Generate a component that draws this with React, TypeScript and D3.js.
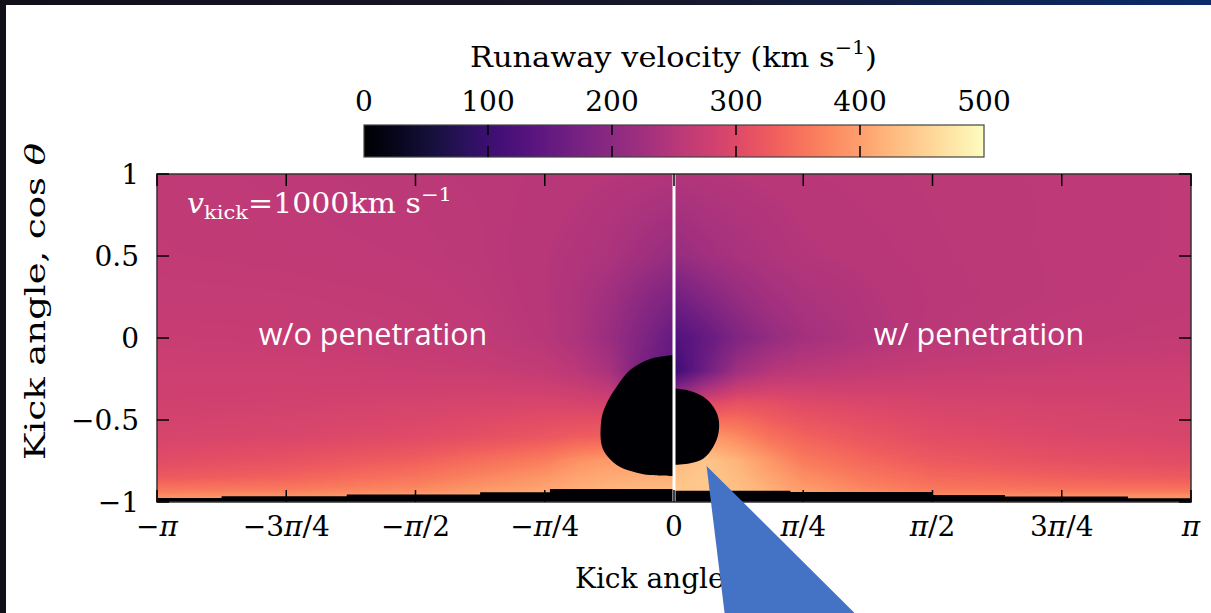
import React, { useMemo } from 'react';
import * as d3 from 'd3';

const W = 1211;
const H = 613;

// Plot frame
const PL = 157, PR = 1191, PT = 174, PB = 502;

// Axis ticks (x in multiples of π)
const xTickFractions = [-1, -0.75, -0.5, -0.25, 0, 0.25, 0.5, 0.75, 1];
const xTickLabels = ['−π', '−3π/4', '−π/2', '−π/4', '0', 'π/4', 'π/2', '3π/4', 'π'];
const yTicks = [1, 0.5, 0, -0.5, -1];
const yTickLabels = ['1', '0.5', '0', '−0.5', '−1'];
const cbTicks = [0, 100, 200, 300, 400, 500];

// Sampled runaway velocity (km/s) on a (cos θ, φ) grid, one table per half
const gridCos = [1, 0.5, 0.25, 0, -0.2, -0.4, -0.6, -0.75, -0.85, -0.92, -0.97];
const phiLeft = [-1, -0.75, -0.5, -0.375, -0.25, -0.1875, -0.125, -0.0625, 0];
const phiRight = [0, 0.0625, 0.125, 0.1875, 0.25, 0.375, 0.5, 0.75, 1];

const velLeft = [
  [262, 258, 256, 255, 253, 252, 250, 248, 245],
  [264, 262, 259, 256, 250, 245, 238, 225, 212],
  [267, 266, 263, 258, 250, 240, 225, 200, 180],
  [272, 270, 266, 262, 252, 240, 215, 185, 150],
  [277, 277, 274, 272, 265, 255, 235, 175, 140],
  [282, 284, 288, 290, 292, 290, 285, 255, 230],
  [290, 294, 302, 310, 320, 328, 332, 330, 330],
  [305, 315, 332, 348, 365, 385, 395, 400, 400],
  [325, 335, 355, 372, 390, 405, 412, 415, 415],
  [355, 360, 375, 390, 405, 415, 422, 425, 428],
  [385, 390, 400, 410, 420, 428, 432, 435, 435],
];

const velRight = [
  [245, 248, 250, 252, 253, 255, 256, 258, 260],
  [212, 225, 235, 242, 248, 252, 255, 258, 260],
  [165, 190, 212, 228, 238, 248, 254, 258, 262],
  [125, 150, 185, 210, 228, 245, 255, 262, 266],
  [100, 165, 225, 250, 258, 265, 270, 274, 276],
  [250, 300, 315, 310, 302, 295, 290, 286, 284],
  [380, 395, 375, 350, 335, 318, 305, 296, 292],
  [425, 440, 420, 390, 362, 340, 325, 312, 305],
  [435, 442, 428, 405, 382, 358, 342, 332, 325],
  [440, 442, 432, 415, 395, 372, 358, 352, 352],
  [442, 442, 435, 422, 408, 392, 382, 385, 385],
];

// Zero-velocity regions (φ in multiples of π, cos θ)
const blobLeftPhi = [0, -0.046, -0.085, -0.111, -0.13, -0.14, -0.14, -0.128, -0.105, -0.072, -0.046, 0];
const blobLeftCos = [-0.104, -0.128, -0.195, -0.297, -0.396, -0.488, -0.652, -0.724, -0.785, -0.821, -0.835, -0.841];
const blobRightPhi = [0, 0.031, 0.057, 0.076, 0.086, 0.086, 0.076, 0.057, 0.031, 0];
const blobRightCos = [-0.307, -0.323, -0.358, -0.419, -0.49, -0.581, -0.663, -0.734, -0.764, -0.774];

// Stepped floor of zero velocity near cos θ = −1
const floorPhi = [-1, -0.875, -0.633, -0.375, -0.24, 0, 0.225, 0.5, 0.64, 0.878, 1];
const floorCos = [-0.975, -0.965, -0.955, -0.94, -0.921, -0.931, -0.939, -0.957, -0.966, -0.977, -0.977];

// Callout
const calloutTip = { phi: 0.063, cos: -0.78 };

const x = d3.scaleLinear().domain([-Math.PI, Math.PI]).range([PL, PR]);
const y = d3.scaleLinear().domain([-1, 1]).range([PB, PT]);
const color = d3.scaleSequential(d3.interpolateMagma).domain([0, 500]);
const cbX = d3.scaleLinear().domain([0, 500]).range([364, 984]);
const CB_T = 125, CB_B = 157;

function bracket(arr: number[], v: number, desc: boolean) {
  const n = arr.length;
  for (let k = 0; k < n - 1; k++) {
    const a = arr[k], b = arr[k + 1];
    if (desc ? v <= a && v >= b : v >= a && v <= b) {
      return { k, t: (v - a) / (b - a) };
    }
  }
  if (desc) return v > arr[0] ? { k: 0, t: 0 } : { k: n - 2, t: 1 };
  return v < arr[0] ? { k: 0, t: 0 } : { k: n - 2, t: 1 };
}

function sample(phiFrac: number, c: number) {
  const cols = phiFrac < 0 ? phiLeft : phiRight;
  const table = phiFrac < 0 ? velLeft : velRight;
  const cx = bracket(cols, phiFrac, false);
  const cy = bracket(gridCos, c, true);
  const v00 = table[cy.k][cx.k], v01 = table[cy.k][cx.k + 1];
  const v10 = table[cy.k + 1][cx.k], v11 = table[cy.k + 1][cx.k + 1];
  const top = v00 + (v01 - v00) * cx.t;
  const bot = v10 + (v11 - v10) * cx.t;
  return top + (bot - top) * cy.t;
}

function PiText({ label, ...rest }: any) {
  const parts = label.split('π');
  return (
    <text {...rest}>
      {parts.map((p: string, i: number) => (
        <React.Fragment key={i}>
          <tspan>{p}</tspan>
          {i < parts.length - 1 && <tspan fontStyle="italic">π</tspan>}
        </React.Fragment>
      ))}
    </text>
  );
}

export default function App() {
  const fieldHref = useMemo(() => {
    const w = PR - PL, h = PB - PT;
    const canvas = document.createElement('canvas');
    canvas.width = w;
    canvas.height = h;
    const ctx = canvas.getContext('2d');
    if (!ctx) return '';
    const img = ctx.createImageData(w, h);
    const lut = d3.range(501).map((v) => d3.rgb(color(v)));
    for (let j = 0; j < h; j++) {
      const c = y.invert(PT + j + 0.5);
      for (let i = 0; i < w; i++) {
        const phiFrac = x.invert(PL + i + 0.5) / Math.PI;
        const v = Math.max(0, Math.min(500, Math.round(sample(phiFrac, c))));
        const col = lut[v];
        const o = (j * w + i) * 4;
        img.data[o] = col.r;
        img.data[o + 1] = col.g;
        img.data[o + 2] = col.b;
        img.data[o + 3] = 255;
      }
    }
    ctx.putImageData(img, 0, 0);
    return canvas.toDataURL();
  }, []);

  const blobPath = (phis: number[], coss: number[]) => {
    const pts = phis.map((p, i) => [x(p * Math.PI), y(coss[i])] as [number, number]);
    const line = d3.line().curve(d3.curveCatmullRom.alpha(0.5));
    return (line(pts) || '') + 'Z';
  };

  const floorPath = d3
    .area<[number, number]>()
    .x((d) => x(d[0] * Math.PI))
    .y0(y(-1))
    .y1((d) => y(d[1]))
    .curve(d3.curveStepAfter)(floorPhi.map((p, i) => [p, floorCos[i]] as [number, number])) || '';

  const gradStops = d3.range(0, 1.0001, 0.02);
  const serif = '"DejaVu Serif", "Liberation Serif", serif';
  const fs = 28;
  const sans = '"Open Sans", sans-serif';

  const tip = [x(calloutTip.phi * Math.PI), y(calloutTip.cos)];

  return (
    <svg width={W} height={H} style={{ position: 'absolute', left: 0, top: 0 }} fontFamily={serif}>
      <defs>
        <linearGradient id="bgSky" x1="0" x2="1" y1="0" y2="0">
          <stop offset="0" stopColor="#120f19" />
          <stop offset="0.55" stopColor="#16172a" />
          <stop offset="1" stopColor="#0b2b6c" />
        </linearGradient>
        <linearGradient id="cbGrad" x1="0" x2="1" y1="0" y2="0">
          {gradStops.map((t) => (
            <stop key={t} offset={t} stopColor={d3.interpolateMagma(t)} />
          ))}
        </linearGradient>
      </defs>
      <rect x={0} y={0} width={W} height={H} fill="url(#bgSky)" />
      <rect x={6} y={5} width={W - 6} height={H - 5} fill="#ffffff" />

      {/* Colorbar */}
      <text x={470} y={67} fontSize={fs} textLength={407} lengthAdjust="spacingAndGlyphs">
        Runaway velocity (km s<tspan dy={-13} fontSize={19}>−1</tspan>
        <tspan dy={13}>)</tspan>
      </text>
      {cbTicks.map((t) => (
        <text key={t} x={cbX(t)} y={111} fontSize={fs} textAnchor="middle">
          {t}
        </text>
      ))}
      <rect x={cbX(0)} y={CB_T} width={cbX(500) - cbX(0)} height={CB_B - CB_T} fill="url(#cbGrad)" stroke="#444" strokeWidth={1.2} />
      {cbTicks.slice(1, -1).map((t) => (
        <g key={t} stroke="#000" strokeWidth={1.5}>
          <line x1={cbX(t)} x2={cbX(t)} y1={CB_T} y2={CB_T + 10} />
          <line x1={cbX(t)} x2={cbX(t)} y1={CB_B - 11} y2={CB_B} />
        </g>
      ))}

      {/* Heat map */}
      <image href={fieldHref} x={PL} y={PT} width={PR - PL} height={PB - PT} preserveAspectRatio="none" />
      <path d={blobPath(blobLeftPhi, blobLeftCos)} fill="#000004" />
      <path d={blobPath(blobRightPhi, blobRightCos)} fill="#000004" />
      <path d={floorPath} fill="#000004" />
      <rect x={x(0) - 1.5} y={PT} width={3} height={PB - PT} fill="#ffffff" />

      {/* Frame and ticks */}
      <rect x={PL} y={PT} width={PR - PL} height={PB - PT} fill="none" stroke="#333" strokeWidth={1.5} />
      {xTickFractions.map((f) => (
        <g key={f} stroke="#000" strokeWidth={1.5}>
          <line x1={x(f * Math.PI)} x2={x(f * Math.PI)} y1={PT} y2={PT + 12} />
          <line x1={x(f * Math.PI)} x2={x(f * Math.PI)} y1={PB} y2={PB - 12} />
        </g>
      ))}
      {yTicks.map((t) => (
        <g key={t} stroke="#000" strokeWidth={1.5}>
          <line x1={PL} x2={PL + 12} y1={y(t)} y2={y(t)} />
          <line x1={PR} x2={PR - 12} y1={y(t)} y2={y(t)} />
        </g>
      ))}
      {xTickFractions.map((f, i) => (
        <PiText key={f} label={xTickLabels[i]} x={x(f * Math.PI)} y={536} fontSize={fs} textAnchor="middle" />
      ))}
      {yTicks.map((t, i) => (
        <text key={t} x={139} y={y(t) + 10} fontSize={fs} textAnchor="end">
          {yTickLabels[i]}
        </text>
      ))}

      {/* Axis titles */}
      <text x={575} y={588} fontSize={fs}>
        Kick angle, <tspan fontStyle="italic">φ</tspan>
      </text>
      <text transform="translate(45,460) rotate(-90)" fontSize={fs} textLength={317} lengthAdjust="spacingAndGlyphs">
        Kick angle, cos <tspan fontStyle="italic">θ</tspan>
      </text>

      {/* Panel annotations */}
      <text x={187} y={213} fontSize={27} fill="#ffffff" textLength={265} lengthAdjust="spacingAndGlyphs">
        <tspan fontStyle="italic">v</tspan>
        <tspan dy={6} fontSize={19}>kick</tspan>
        <tspan dy={-6}>=1000km s</tspan>
        <tspan dy={-12} fontSize={19}>−1</tspan>
      </text>
      <text x={373} y={345} fontSize={30.5} fill="#ffffff" textAnchor="middle" fontFamily={sans}>
        w/o penetration
      </text>
      <text x={979} y={345} fontSize={30.5} fill="#ffffff" textAnchor="middle" fontFamily={sans}>
        w/ penetration
      </text>

      {/* Callout pointer */}
      <polygon points={`${tip[0]},${tip[1]} ${tip[0] + 18},${H} ${tip[0] + 148},${H}`} fill="#4472c4" />
    </svg>
  );
}
